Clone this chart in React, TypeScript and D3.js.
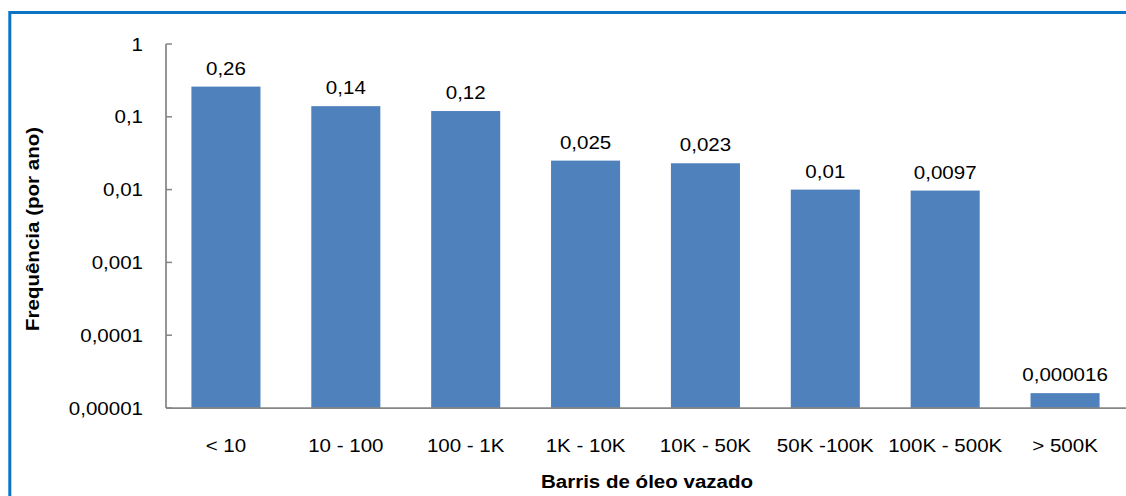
import React from 'react';
import * as d3 from 'd3';

const categories = ['< 10', '10 - 100', '100 - 1K', '1K - 10K', '10K - 50K', '50K -100K', '100K - 500K', '> 500K'];
const frequencies = [0.26, 0.14, 0.12, 0.025, 0.023, 0.01, 0.0097, 0.000016];
const yTicks = [1, 0.1, 0.01, 0.001, 0.0001, 0.00001];

const width = 1126;
const height = 496;
const plot = { left: 166, right: 1125, top: 44, bottom: 408 };
const barColor = '#4F81BD';
const axisColor = '#868686';
const font = '"Liberation Sans", Arial, sans-serif';

const fmt = (v: number) => String(v).replace('.', ',');

// the reference text is slightly stretched sideways
const Label: React.FC<{ x: number; y: number; anchor?: string; bold?: boolean; size?: number; rotate?: number; children: React.ReactNode }> = ({
  x, y, anchor = 'middle', bold = false, size = 18.5, rotate = 0, children,
}) => (
  <text
    transform={`translate(${x},${y}) rotate(${rotate}) scale(1.11,1)`}
    textAnchor={anchor}
    fontFamily={font}
    fontSize={size}
    fontWeight={bold ? 700 : 400}
    fill="#000"
  >
    {children}
  </text>
);

export default function App() {
  const x = d3.scaleBand<string>()
    .domain(categories)
    .range([plot.left, plot.right])
    .paddingInner(0.424)
    .paddingOuter(0.212);

  const y = d3.scaleLog()
    .domain([0.00001, 1])
    .range([plot.bottom, plot.top]);

  return (
    <svg width={width} height={height} style={{ position: 'absolute', left: 0, top: 0, background: '#fff' }}>
      <rect x={9.8} y={12.5} width={1200} height={600} fill="none" stroke="#0B74C4" strokeWidth={3} />

      {/* Bars */}
      {categories.map((c, i) => (
        <rect
          key={c}
          x={x(c)}
          y={y(frequencies[i])}
          width={x.bandwidth()}
          height={y(0.00001) - y(frequencies[i])}
          fill={barColor}
        />
      ))}

      {/* Value labels */}
      {categories.map((c, i) => (
        <Label key={c} x={(x(c) || 0) + x.bandwidth() / 2} y={y(frequencies[i]) - 12}>
          {fmt(frequencies[i])}
        </Label>
      ))}

      {/* Y axis */}
      <line x1={plot.left} x2={plot.left} y1={plot.top} y2={plot.bottom} stroke={axisColor} strokeWidth={1.75} />
      {yTicks.map(t => (
        <g key={t}>
          <line x1={plot.left} x2={plot.left + 6} y1={y(t)} y2={y(t)} stroke={axisColor} strokeWidth={1.5} />
          <Label x={143} y={y(t) + 6.5} anchor="end">{fmt(t)}</Label>
        </g>
      ))}

      {/* X axis */}
      <line x1={plot.left} x2={width} y1={plot.bottom} y2={plot.bottom} stroke={axisColor} strokeWidth={1.75} />
      {categories.map(c => (
        <Label key={c} x={(x(c) || 0) + x.bandwidth() / 2} y={452}>{c}</Label>
      ))}

      <Label x={647} y={488} bold>Barris de óleo vazado</Label>
      <Label x={39} y={229} bold rotate={-90}>Frequência (por ano)</Label>
    </svg>
  );
}
